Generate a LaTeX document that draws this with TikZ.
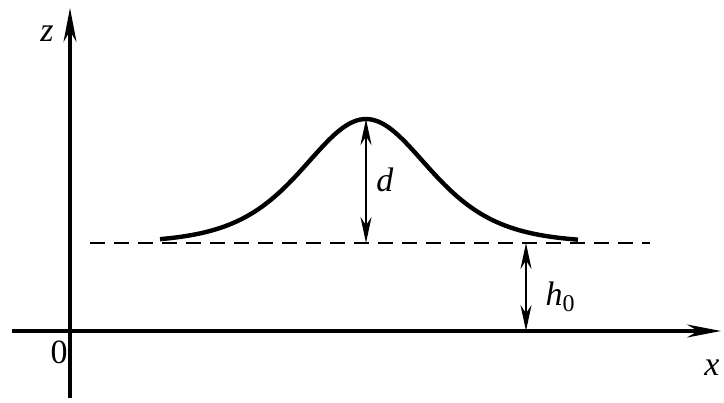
\documentclass[tikz,border=0pt]{standalone}
\usepackage{fontspec}
\setmainfont{Liberation Serif}
\usepackage{tikz}
\usetikzlibrary{arrows.meta,positioning,calc}
\tikzset{
  axis line/.style={
    line width=3.2pt,
    -{Stealth[length=34pt,width=13pt]}
  },
  wave line/.style={
    line width=4.4pt
  },
  base line/.style={
    line width=2.4pt,
    dash pattern=on 15pt off 9pt
  },
  dim arrow/.style={
    line width=2.6pt,
    {Stealth[length=26pt,width=11pt]}-{Stealth[length=26pt,width=11pt]}
  },
  lbl/.style={
    font=\fontsize{34}{40}\selectfont,
    inner sep=0pt
  }
}
\newcommand{\subzero}{\raisebox{-0.35ex}{\fontsize{24}{28}\selectfont 0}}

\begin{document}
\begin{tikzpicture}[x=1pt,y=-1pt]
  \useasboundingbox (0,0) rectangle (724,403);

  % Axes
  \coordinate (origin) at (70,331);
  \coordinate (zlow) at (70,398);
  \coordinate (ztop) at (70,8);
  \coordinate (xleft) at (12,331);
  \coordinate (xright) at (721,331);
  \draw[axis line] (zlow) -- (ztop);
  \draw[axis line] (xleft) -- (xright);
  \node[lbl] (zlabel) at (47,34) {\textit{z}};
  \node[lbl] (olabel) at (59,352) {0};
  \node[lbl] (xlabel) at (712,368) {\textit{x}};

  % Undisturbed level
  \coordinate (levleft) at (90,243);
  \coordinate (levright) at (650,243);
  \draw[base line] (levleft) -- (levright);

  % Solitary wave
  \draw[wave line] plot[domain=160:578, samples=120]
    (\x, {243-124/(cosh((\x-366)/85)^2)});

  % Amplitude
  \coordinate (peak) at (366,119);
  \coordinate (foot) at (366,243);
  \draw[dim arrow] (peak) -- (foot);
  \node[lbl] (dlabel) at (385,180) {\textit{d}};

  % Depth
  \coordinate (htop) at (526,243);
  \coordinate (hbase) at (526,331);
  \draw[dim arrow] (htop) -- (hbase);
  \node[lbl] (hlabel) at (560,297) {\textit{h}\subzero};
\end{tikzpicture}
\end{document}
